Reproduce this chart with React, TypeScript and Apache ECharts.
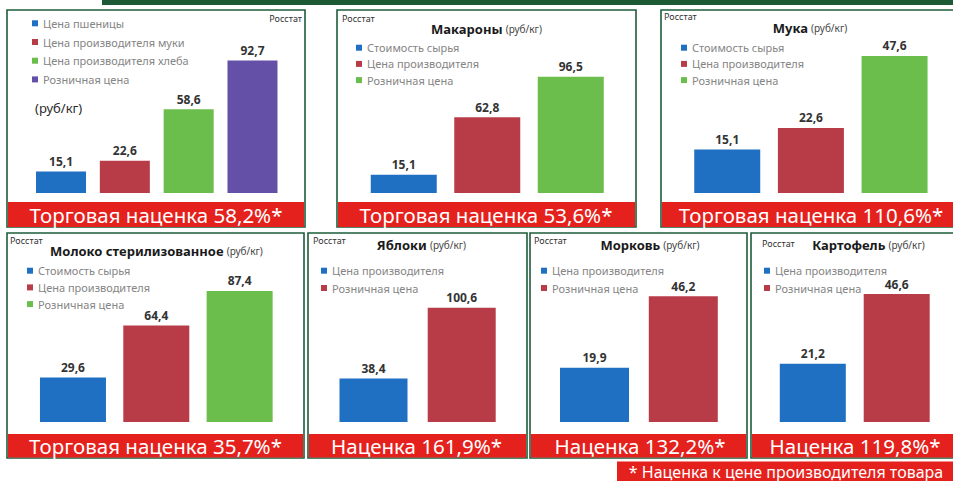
import React, { useEffect, useRef } from 'react';
import * as echarts from 'echarts';

// ---------- data ----------
const breadSeries = ['Цена пшеницы', 'Цена производителя муки', 'Цена производителя хлеба', 'Розничная цена'];
const breadValues = [15.1, 22.6, 58.6, 92.7];
const chainSeries = ['Стоимость сырья', 'Цена производителя', 'Розничная цена'];
const pastaValues = [15.1, 62.8, 96.5];
const flourValues = [15.1, 22.6, 47.6];
const milkValues = [29.6, 64.4, 87.4];
const produceSeries = ['Цена производителя', 'Розничная цена'];
const appleValues = [38.4, 100.6];
const carrotValues = [19.9, 46.2];
const potatoValues = [21.2, 46.6];
const productNames = ['', 'Макароны', 'Мука', 'Молоко стерилизованное', 'Яблоки', 'Морковь', 'Картофель'];
const markupLabels = ['Торговая наценка', 'Торговая наценка', 'Торговая наценка', 'Торговая наценка', 'Наценка', 'Наценка', 'Наценка'];
const markupValues = [58.2, 53.6, 110.6, 35.7, 161.9, 132.2, 119.8];
const unitLabel = '(руб/кг)';
const sourceLabel = 'Росстат';
const footnote = '* Наценка к цене производителя товара';

const panelSeries = [breadSeries, chainSeries, chainSeries, chainSeries, produceSeries, produceSeries, produceSeries];
const panelValues = [breadValues, pastaValues, flourValues, milkValues, appleValues, carrotValues, potatoValues];

// ---------- styles / layout ----------
const BLUE = '#1f6fc2';
const RED = '#b83c48';
const GREEN = '#6bbd4c';
const PURPLE = '#6450a6';
const BANNER = '#e5211d';
const FRAME = '#1d5c3a';
const FONT = 'Noto Sans';

const palettes = [
  [BLUE, RED, GREEN, PURPLE],
  [BLUE, RED, GREEN],
  [BLUE, RED, GREEN],
  [BLUE, RED, GREEN],
  [BLUE, RED],
  [BLUE, RED],
  [BLUE, RED],
];

type Layout = {
  frame: number[];
  bannerY: number;
  bannerH: number;
  grid: number[];
  max: number;
  barWidth: number;
  legend: number[];
  title: number[] | null;
  source: [number, number, string];
  bannerCx: number;
};

const layout: Layout[] = [
  { frame: [7, 10, 298, 217], bannerY: 202, bannerH: 25, grid: [29.1, 50, 255.3, 143], max: 100, barWidth: 50, legend: [32, 17.3, 6.7], title: null, source: [302, 18, 'right'], bannerCx: 156 },
  { frame: [337, 10, 299, 217], bannerY: 202, bannerH: 25, grid: [362, 72.5, 250.5, 120.5], max: 100, barWidth: 66, legend: [356, 41.7, 4.2], title: [486.5, 29], source: [342, 18, 'left'], bannerCx: 486 },
  { frame: [661, 10, 300, 217], bannerY: 202, bannerH: 25, grid: [685.4, 49, 251, 144], max: 50, barWidth: 66, legend: [681, 41.7, 4.2], title: [810, 28], source: [664, 16, 'left'], bannerCx: 811 },
  { frame: [7, 233, 297, 225], bannerY: 434, bannerH: 23.5, grid: [31.3, 272, 250, 150], max: 100, barWidth: 66, legend: [27, 264.7, 4.7], title: [156.5, 251], source: [10, 240, 'left'], bannerCx: 155.5 },
  { frame: [308, 233, 219, 225], bannerY: 434, bannerH: 23.5, grid: [329.4, 285.8, 176.4, 136.2], max: 120, barWidth: 68, legend: [321, 264.7, 5.3], title: [421.5, 245], source: [313, 240, 'left'], bannerCx: 416.5 },
  { frame: [530, 233, 217, 225], bannerY: 434, bannerH: 23.5, grid: [550.1, 286, 177.6, 136], max: 50, barWidth: 69, legend: [541, 264.7, 5.3], title: [650, 245], source: [534, 240, 'left'], bannerCx: 640 },
  { frame: [751, 233, 205, 225], bannerY: 434, bannerH: 23.5, grid: [770.85, 284.75, 167.8, 137.25], max: 50, barWidth: 66, legend: [764, 264.7, 5.3], title: [868.5, 245], source: [762, 243, 'left'], bannerCx: 855 },
];

const fmt = (v: number) => String(v).replace('.', ',');

function buildOption() {
  const grid: any[] = [];
  const xAxis: any[] = [];
  const yAxis: any[] = [];
  const series: any[] = [];
  const legend: any[] = [];
  const graphic: any[] = [];

  graphic.push({ type: 'rect', shape: { x: 102, y: 0, width: 851, height: 5 }, style: { fill: '#1b5a35' }, z: 0 });

  layout.forEach((L, p) => {
    const names = panelSeries[p];
    const vals = panelValues[p];
    const [fx, fy, fw, fh] = L.frame;
    graphic.push({ type: 'rect', shape: { x: fx, y: fy, width: fw, height: fh }, style: { fill: '#ffffff', stroke: FRAME, lineWidth: 1.6 }, z: 0 });
    graphic.push({ type: 'rect', shape: { x: fx + 1, y: L.bannerY, width: fw - 2, height: L.bannerH }, style: { fill: BANNER }, z: 1 });
    graphic.push({
      type: 'text', z: 2,
      style: { text: `${markupLabels[p]} ${fmt(markupValues[p])}%*`, x: L.bannerCx, y: L.bannerY + L.bannerH / 2 + 0.5, align: 'center', verticalAlign: 'middle', fill: '#ffffff', fontSize: 20.5, fontFamily: FONT },
    });
    graphic.push({
      type: 'text', z: 2,
      style: { text: sourceLabel, x: L.source[0], y: L.source[1], align: L.source[2], verticalAlign: 'middle', fill: '#333333', fontSize: 9, fontFamily: FONT },
    });
    if (L.title) {
      graphic.push({
        type: 'text', z: 2,
        style: {
          text: `{b|${productNames[p]}} {n|${unitLabel}}`,
          x: L.title[0], y: L.title[1], align: 'center', verticalAlign: 'middle', fontFamily: FONT,
          rich: {
            b: { fontWeight: 'bold', fontSize: 13, fill: '#1a1a1a', fontFamily: FONT },
            n: { fontSize: 10, fill: '#444444', fontFamily: FONT },
          },
        },
      });
    } else {
      graphic.push({
        type: 'text', z: 2,
        style: { text: unitLabel, x: 35, y: 108, verticalAlign: 'middle', fill: '#2a2a2a', fontSize: 13, fontFamily: FONT },
      });
    }

    grid.push({ left: L.grid[0], top: L.grid[1], width: L.grid[2], height: L.grid[3], containLabel: false });
    xAxis.push({ type: 'category', gridIndex: p, data: names, show: false });
    yAxis.push({ type: 'value', gridIndex: p, min: 0, max: L.max, show: false, splitLine: { show: false } });

    const legendNames: string[] = [];
    names.forEach((nm, i) => {
      const sName = `${p}|${nm}`;
      legendNames.push(sName);
      series.push({
        type: 'bar',
        name: sName,
        xAxisIndex: p,
        yAxisIndex: p,
        barWidth: L.barWidth,
        barGap: '-100%',
        z: 3,
        data: vals.map((v, j) => (j === i ? v : '-')),
        itemStyle: { color: palettes[p][i] },
        label: {
          show: true, position: 'top', distance: 4,
          formatter: (prm: any) => fmt(prm.value),
          fontWeight: 'bold', fontSize: 12, color: '#333333', fontFamily: FONT,
        },
      });
    });
    legend.push({
      orient: 'vertical',
      left: L.legend[0],
      top: L.legend[1],
      itemGap: L.legend[2],
      itemWidth: 6,
      itemHeight: 6,
      icon: 'rect',
      padding: 0,
      selectedMode: false,
      data: legendNames,
      formatter: (name: string) => name.split('|')[1],
      textStyle: { fontSize: 11, color: '#858585', fontFamily: FONT, lineHeight: 12 },
    });
  });

  graphic.push({ type: 'rect', shape: { x: 617, y: 461.5, width: 336, height: 19.5 }, style: { fill: BANNER }, z: 1 });
  graphic.push({
    type: 'text', z: 2,
    style: { text: footnote, x: 786, y: 471.5, align: 'center', verticalAlign: 'middle', fill: '#ffffff', fontSize: 16, fontFamily: FONT },
  });

  return {
    animation: false,
    backgroundColor: '#ffffff',
    textStyle: { fontFamily: FONT },
    grid, xAxis, yAxis, series, legend, graphic,
  };
}

export default function App() {
  const ref = useRef<HTMLDivElement>(null);
  useEffect(() => {
    if (!ref.current) return;
    const chart = echarts.init(ref.current, undefined, { renderer: 'svg' });
    chart.setOption(buildOption() as any);
    return () => chart.dispose();
  }, []);
  return <div ref={ref} style={{ position: 'fixed', left: 0, top: 0, width: 953, height: 481 }} />;
}
